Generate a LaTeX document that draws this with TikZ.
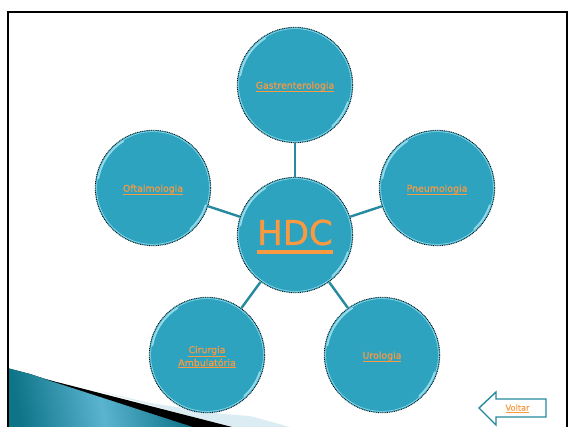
\documentclass[tikz,border=0pt]{standalone}
\usepackage{fontspec}
\setmainfont[FakeBold=0.3]{DejaVu Sans}
\newfontfamily\hubbold[FakeBold=1]{DejaVu Sans}
\definecolor{teal1}{HTML}{2EA3C0}
\definecolor{linkc}{HTML}{FA9A40}
\definecolor{conn}{HTML}{25899F}
\definecolor{rimc}{HTML}{9ADCEA}
\definecolor{wedged}{HTML}{0E7488}
\definecolor{wedgel}{HTML}{5AB4D0}
\definecolor{pale}{HTML}{DCECF3}
\newcommand{\ulin}[3]{\leavevmode\vtop{\hbox{#3}\kern #2\hrule height #1}}
\tikzset{
  x=1pt,y=-1pt,
  hub/.style={circle,minimum size=115.5pt,inner sep=0pt,fill=teal1,draw=black,densely dotted,line width=.8pt},
  hubtext/.style={align=center,text=linkc,inner sep=0pt,yshift=-2pt,font=\fontsize{9.4}{13}\selectfont},
  link/.style={conn,line width=2.4pt},
  rimhi/.style={rimc,line width=1.4pt,line cap=round},
  rimlo/.style={rimc,line width=.6pt},
}
\newcommand{\rim}[1]{%
  \draw[rimlo,shift={(#1)}] plot[domain=0:360,samples=60,smooth] ({56.4*cos(\x)},{56.4*sin(\x)});
  \draw[rimhi,shift={(#1)}] plot[domain=190:238,samples=14,smooth] ({55.3*cos(\x)},{55.3*sin(\x)});
  \draw[rimhi,shift={(#1)}] plot[domain=18:48,samples=10,smooth] ({55.3*cos(\x)},{55.3*sin(\x)});
}
\begin{document}
\begin{tikzpicture}
\useasboundingbox (0,0) rectangle (568,427);
\fill[white] (0,0) rectangle (568,427);
\draw[black,line width=2pt] (8,427) -- (8,12) -- (566.5,12) -- (566.5,427);
% corner wedge
\fill[pale] (95,390) -- (150,403) -- (223,414) -- (250,416) -- (290,427) -- (230,427) -- cycle;
\fill[left color=wedged,right color=wedged,middle color=wedgel,shading angle=100] (7,368) -- (30,374) -- (193,427) -- (7,427) -- cycle;
\fill[black] (45,379) -- (232,427) -- (193,427) -- cycle;
\draw[black,line width=2pt] (8,368) -- (8,427);
% nodes and connectors
\node[hub] (c) at (295,235) {};
\node[hub] (t) at (295,85) {};
\node[hub] (r) at (437,188) {};
\node[hub] (l) at (153,188) {};
\node[hub] (bl) at (207,355) {};
\node[hub] (br) at (382,355) {};
\draw[link] (c) -- (t);
\draw[link] (c) -- (r);
\draw[link] (c) -- (l);
\draw[link] (c) -- (bl);
\draw[link] (c) -- (br);
\rim{c}\rim{t}\rim{r}\rim{l}\rim{bl}\rim{br}
\node[hubtext] (ct) at (c) {\hubbold\fontsize{34}{40}\selectfont\ulin{4pt}{5pt}{HDC}};
\node[hubtext] (tt) at (t) {\ulin{.9pt}{.8pt}{Gastrenterologia}};
\node[hubtext] (rt) at (r) {\ulin{.9pt}{.8pt}{Pneumologia}};
\node[hubtext] (lt) at (l) {\ulin{.9pt}{.8pt}{Oftalmologia}};
\node[hubtext] (blt) at (bl) {\ulin{.9pt}{.8pt}{Cirurgia}\\\ulin{.9pt}{.8pt}{Ambulatória}};
\node[hubtext] (brt) at (br) {\ulin{.9pt}{.8pt}{Urologia}};
\draw[conn,line width=1.4pt,fill=white,line join=miter] (479,408) -- (496,392) -- (496,399) -- (546,399) -- (546,417) -- (496,417) -- (496,425) -- cycle;
\node[text=linkc,font=\fontsize{8.2}{9}\selectfont] (vt) at (517.5,408.5) {\ulin{.9pt}{.8pt}{Voltar}};
\end{tikzpicture}
\end{document}
